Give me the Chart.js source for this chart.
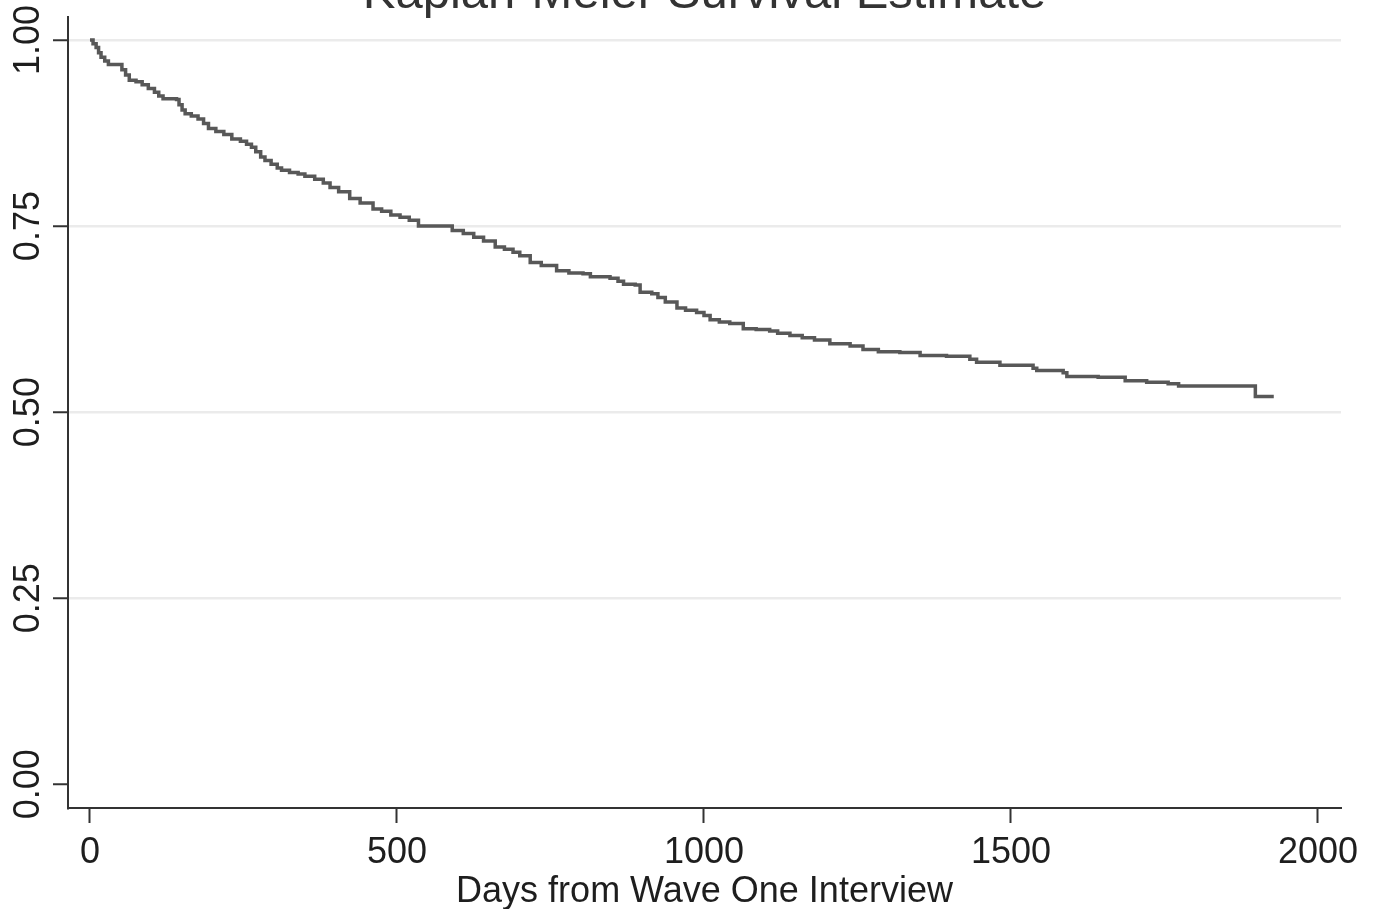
<!DOCTYPE html>
<html>
<head>
<meta charset="utf-8">
<title>Kaplan-Meier Survival Estimate</title>
<script src="https://cdn.jsdelivr.net/npm/chart.js@4"></script>
<style>
    html, body { margin: 0; padding: 0; background: #fff; }
    #wrap { width: 1377px; height: 909px; position: relative; }
</style>
</head>
<body>
<div id="wrap"><canvas id="kmChart"></canvas></div>
<script>
// 生存時間（日）と生存率
const days = [0, 5, 10, 14, 18, 24, 30, 52, 58, 64, 75, 85, 95, 105, 112, 119, 141, 145, 150, 155,
    165, 176, 185, 193, 205, 218, 231, 245, 255, 263, 270, 278, 285, 295, 305, 312, 325, 339, 350, 366,
    380, 391, 405, 423, 440, 461, 475, 490, 505, 520, 535, 590, 608, 625, 641, 660, 675, 689, 700, 717,
    735, 760, 780, 803, 815, 847, 860, 869, 888, 896, 915, 925, 937, 956, 970, 988, 1000, 1010, 1025, 1042,
    1064, 1085, 1107, 1120, 1140, 1160, 1180, 1205, 1238, 1259, 1284, 1319, 1352, 1395, 1433, 1444, 1482, 1536, 1542, 1585,
    1591, 1642, 1686, 1721, 1756, 1773, 1898, 1928];
const survival = [1.000, 0.995, 0.990, 0.983, 0.977, 0.972, 0.967, 0.960, 0.953, 0.946, 0.944, 0.940, 0.935, 0.930, 0.925, 0.921, 0.920, 0.913, 0.906, 0.901,
    0.898, 0.894, 0.888, 0.881, 0.877, 0.873, 0.867, 0.864, 0.860, 0.856, 0.850, 0.843, 0.838, 0.833, 0.828, 0.825, 0.822, 0.820, 0.817, 0.813,
    0.808, 0.802, 0.796, 0.787, 0.781, 0.773, 0.770, 0.765, 0.762, 0.758, 0.750, 0.744, 0.740, 0.735, 0.730, 0.722, 0.719, 0.715, 0.710, 0.701,
    0.697, 0.690, 0.687, 0.686, 0.682, 0.680, 0.676, 0.672, 0.671, 0.661, 0.659, 0.654, 0.648, 0.640, 0.637, 0.634, 0.630, 0.624, 0.621, 0.619,
    0.612, 0.611, 0.609, 0.606, 0.603, 0.600, 0.597, 0.592, 0.589, 0.584, 0.581, 0.580, 0.576, 0.575, 0.571, 0.567, 0.563, 0.559, 0.556, 0.553,
    0.548, 0.547, 0.542, 0.540, 0.538, 0.535, 0.521, 0.521];

const xTicks = [0, 500, 1000, 1500, 2000];
const yTicks = [0, 0.25, 0.5, 0.75, 1];
const yTickLabels = ['0.00', '0.25', '0.50', '0.75', '1.00'];
const titleText = 'Kaplan-Meier Survival Estimate';
const xTitleText = 'Days from Wave One Interview';

const FONT = '"Liberation Sans", Arial, Helvetica, sans-serif';
const TEXT_COLOR = '#1e1e1e';

/**
 * タイトル・Y軸ラベル・X軸タイトルを描画
 */
const textPlugin = {
    id: 'stataText',
    afterDraw(chart) {
        const ctx = chart.ctx;
        const area = chart.chartArea;
        const yScale = chart.scales.y;
        const cx = (area.left + area.right) / 2;

        ctx.save();
        ctx.fillStyle = '#333';
        ctx.textAlign = 'center';
        ctx.textBaseline = 'alphabetic';

        // タイトル（上端で切れている）
        ctx.font = `49px ${FONT}`;
        ctx.fillText(titleText, cx, 8);

        // X軸タイトル
        ctx.fillStyle = TEXT_COLOR;
        ctx.font = `36px ${FONT}`;
        ctx.fillText(xTitleText, cx, 902);

        // Y軸目盛ラベル（回転）
        yTicks.forEach((v, i) => {
            const py = yScale.getPixelForValue(v);
            ctx.save();
            ctx.translate(39, py);
            ctx.rotate(-Math.PI / 2);
            ctx.fillText(yTickLabels[i], 0, 0);
            ctx.restore();
        });
        ctx.restore();
    }
};

document.addEventListener('DOMContentLoaded', () => {
    const points = days.map((d, i) => ({ x: d, y: survival[i] }));

    new Chart(document.getElementById('kmChart'), {
        type: 'line',
        data: {
            datasets: [{
                label: 'Survival',
                data: points,
                stepped: 'before',
                borderColor: '#585858',
                borderWidth: 3.5,
                pointRadius: 0,
                fill: false
            }]
        },
        options: {
            responsive: true,
            maintainAspectRatio: false,
            animation: false,
            layout: { padding: { top: 17, right: 36, left: 0, bottom: 0 } },
            plugins: {
                legend: { display: false },
                tooltip: { enabled: false },
                title: { display: false }
            },
            scales: {
                x: {
                    type: 'linear',
                    min: -35.8,
                    max: 2037.5,
                    afterBuildTicks: (scale) => {
                        scale.ticks = xTicks.map(v => ({ value: v }));
                    },
                    afterFit: (scale) => { scale.height = 101; },
                    ticks: {
                        color: TEXT_COLOR,
                        font: { family: FONT, size: 36 },
                        padding: 8,
                        maxRotation: 0,
                        autoSkip: false,
                        callback: (value) => String(value)
                    },
                    grid: {
                        drawOnChartArea: false,
                        drawTicks: true,
                        tickLength: 15,
                        tickColor: '#333',
                        tickWidth: 2
                    },
                    border: { display: true, color: '#333', width: 2 }
                },
                y: {
                    type: 'linear',
                    min: -0.032,
                    max: 1.031,
                    afterBuildTicks: (scale) => {
                        scale.ticks = yTicks.map(v => ({ value: v }));
                    },
                    afterFit: (scale) => { scale.width = 68; },
                    ticks: { display: false },
                    grid: {
                        color: (c) => (c.tick && c.tick.value === 0 ? 'rgba(0,0,0,0)' : '#ebebeb'),
                        lineWidth: 2.5,
                        drawTicks: true,
                        tickLength: 15,
                        tickColor: '#333',
                        tickWidth: 2
                    },
                    border: { display: true, color: '#333', width: 2 }
                }
            }
        },
        plugins: [textPlugin]
    });
});
</script>
</body>
</html>
